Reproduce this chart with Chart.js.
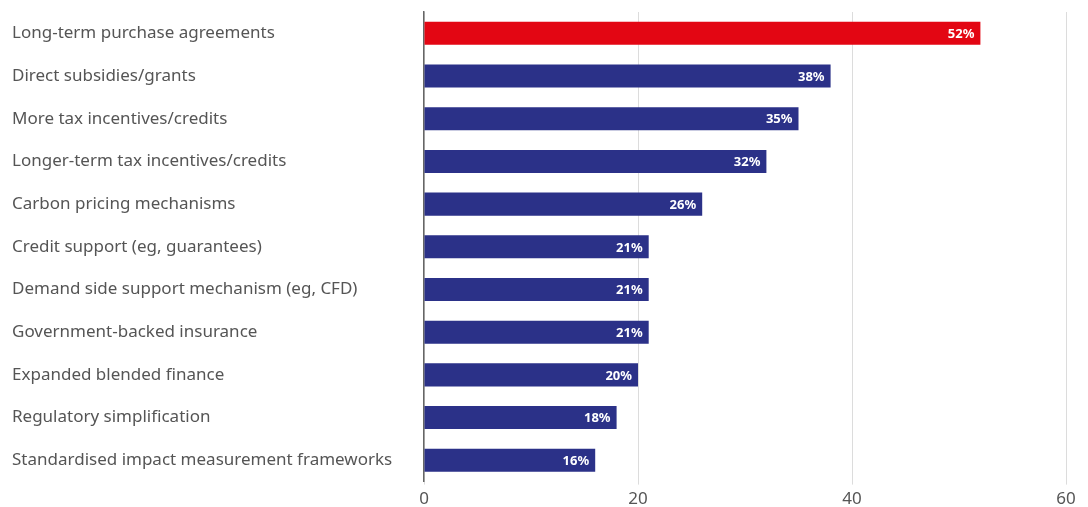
<!DOCTYPE html>
<html>
<head>
<meta charset="utf-8">
<script src="https://cdn.jsdelivr.net/npm/chart.js@4/dist/chart.umd.min.js"></script>
<style>
    html, body { margin: 0; padding: 0; background: #fff; }
    #wrap { width: 1088px; height: 507px; position: relative; }
</style>
</head>
<body>
<div id="wrap"><canvas id="policyChart"></canvas></div>
<script>
(function() {
    'use strict';

    // Chart data
    const categories = [
        'Long-term purchase agreements',
        'Direct subsidies/grants',
        'More tax incentives/credits',
        'Longer-term tax incentives/credits',
        'Carbon pricing mechanisms',
        'Credit support (eg, guarantees)',
        'Demand side support mechanism (eg, CFD)',
        'Government-backed insurance',
        'Expanded blended finance',
        'Regulatory simplification',
        'Standardised impact measurement frameworks'
    ];
    const shares = [52, 38, 35, 32, 26, 21, 21, 21, 20, 18, 16];
    const xTicks = [0, 20, 40, 60];

    const RED = '#E30613';
    const BLUE = '#2B3188';
    const FONT = '"Noto Sans", "Open Sans", sans-serif';

    // White value labels drawn at the end of each bar
    const barValueLabels = {
        id: 'barValueLabels',
        afterDatasetsDraw(chart) {
            const ctx = chart.ctx;
            const meta = chart.getDatasetMeta(0);
            ctx.save();
            ctx.fillStyle = '#fff';
            ctx.font = 'bold 13px ' + FONT;
            ctx.textAlign = 'right';
            ctx.textBaseline = 'middle';
            meta.data.forEach(function(bar, i) {
                ctx.fillText(shares[i] + '%', bar.x - 6, bar.y + 1);
            });
            ctx.restore();
        }
    };

    const ctx = document.getElementById('policyChart');

    new Chart(ctx, {
        type: 'bar',
        data: {
            labels: categories,
            datasets: [{
                data: shares,
                backgroundColor: shares.map(function(v, i) { return i === 0 ? RED : BLUE; }),
                barPercentage: 0.54,
                categoryPercentage: 1
            }]
        },
        options: {
            indexAxis: 'y',
            responsive: true,
            maintainAspectRatio: false,
            animation: false,
            layout: { padding: { left: 12, right: 22, top: 12, bottom: -6 } },
            plugins: {
                legend: { display: false },
                tooltip: { enabled: false }
            },
            scales: {
                x: {
                    min: xTicks[0],
                    max: xTicks[xTicks.length - 1],
                    afterBuildTicks: function(axis) {
                        axis.ticks = xTicks.map(function(v) { return { value: v }; });
                    },
                    grid: { color: '#dcdcdc', lineWidth: 1, tickLength: 3 },
                    border: { display: false },
                    ticks: {
                        color: '#555',
                        font: { family: FONT, size: 17 },
                        padding: 4
                    }
                },
                y: {
                    grid: { display: false },
                    border: { display: true, color: '#666', width: 1.5 },
                    afterFit: function(scale) { scale.width = 412; },
                    ticks: {
                        crossAlign: 'far',
                        color: '#555',
                        font: { family: FONT, size: 17 },
                        padding: 0
                    }
                }
            }
        },
        plugins: [barValueLabels]
    });
})();
</script>
</body>
</html>
